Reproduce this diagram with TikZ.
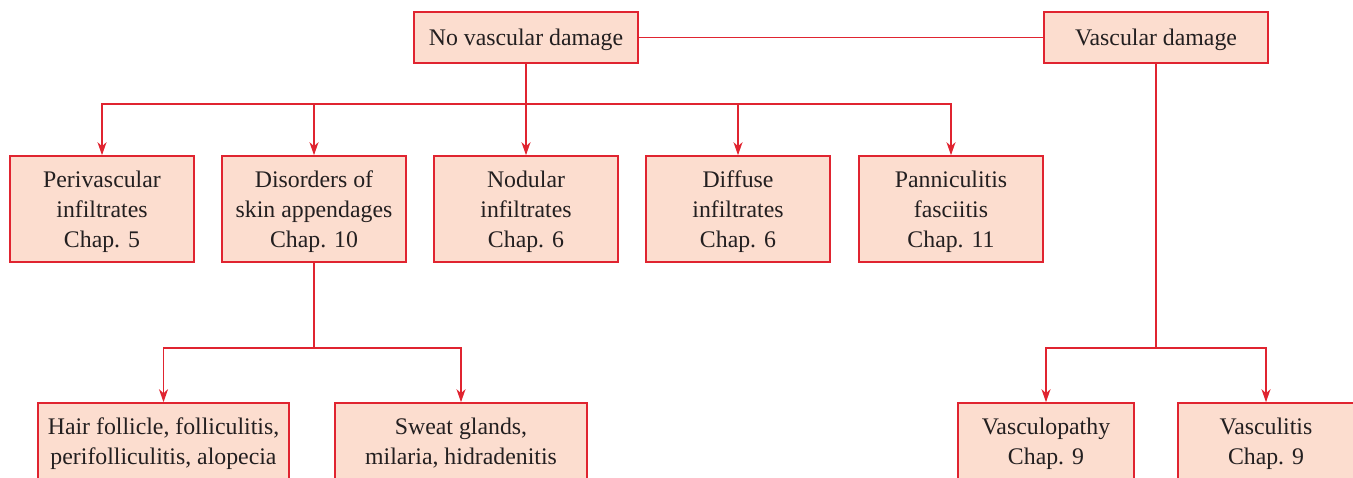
\documentclass[tikz,border=0pt]{standalone}
\usepackage{fontspec}
\setmainfont{Liberation Serif}
\usetikzlibrary{arrows.meta}
\definecolor{boxfill}{RGB}{252,221,207}
\definecolor{boxline}{RGB}{224,36,48}
\definecolor{txt}{RGB}{35,31,32}
\begin{document}
\begin{tikzpicture}[x=1pt,y=-1pt,
  box/.style={draw=boxline,fill=boxfill,line width=1.6pt,text=txt,align=center,
    inner sep=0pt,text depth=0pt,font=\fontsize{23.8}{30}\selectfont},
  topbox/.style={box,minimum width=224pt,minimum height=51pt},
  midbox/.style={box,minimum width=184pt,minimum height=106pt},
  lowbox/.style={box,minimum height=77pt},
  conn/.style={draw=boxline,line width=1.7pt},
  arr/.style={conn,-{Stealth[length=13pt,width=9pt,inset=4pt]}}]
\clip (0,0) rectangle (1353,477);
\useasboundingbox (0,0) rectangle (1353,477);
\node[topbox] (nvd) at (526,37.5) {No vascular damage};
\node[topbox] (vd) at (1156,37.5) {Vascular damage};
\node[midbox] (peri) at (102,209) {Perivascular\\infiltrates\\Chap. 5};
\node[midbox] (dis) at (314,209) {Disorders of\\skin appendages\\Chap. 10};
\node[midbox] (nod) at (526,209) {Nodular\\infiltrates\\Chap. 6};
\node[midbox] (dif) at (738,209) {Diffuse\\infiltrates\\Chap. 6};
\node[midbox] (pan) at (951,209) {Panniculitis\\fasciitis\\Chap. 11};
\node[lowbox,minimum width=251pt] (hair) at (163.5,441.5) {Hair follicle, folliculitis,\\perifolliculitis, alopecia};
\node[lowbox,minimum width=252pt] (sweat) at (461,441.5) {Sweat glands,\\milaria, hidradenitis};
\node[lowbox,minimum width=176pt] (vp) at (1046,441.5) {Vasculopathy\\Chap. 9};
\node[lowbox,minimum width=176pt] (vs) at (1266,441.5) {Vasculitis\\Chap. 9};
\draw[conn] (nvd) -- (vd);
\foreach \t in {peri,dis,nod,dif,pan}
  \draw[arr] (nvd.south) -- ++(0,40) -| (\t.north);
\foreach \t in {hair,sweat}
  \draw[arr] (dis.south) -- ++(0,85) -| (\t.north);
\foreach \t in {vp,vs}
  \draw[arr] (vd.south) -- ++(0,284) -| (\t.north);
\end{tikzpicture}
\end{document}
